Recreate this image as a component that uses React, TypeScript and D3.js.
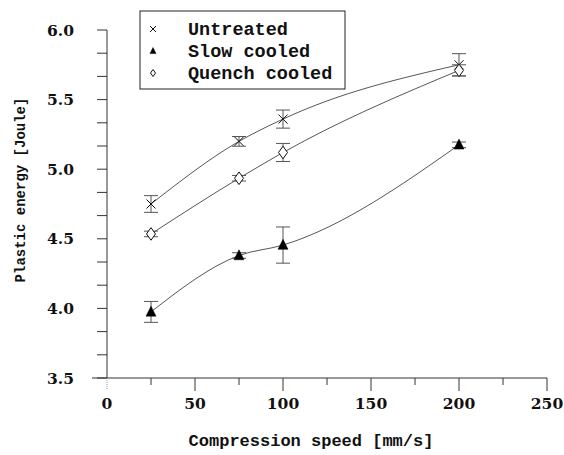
import React, { useRef, useEffect } from 'react'
import * as d3 from 'd3'

// compression speed [mm/s]
const speeds = [25, 75, 100, 200]

// plastic energy [Joule], mean and half error bar
const untreated = [4.75, 5.2, 5.36, 5.75]
const untreatedErr = [0.06, 0.035, 0.065, 0.08]
const slowCooled = [3.975, 4.38, 4.455, 5.175]
const slowCooledErr = [0.075, 0.02, 0.13, 0.02]
const quenchCooled = [4.535, 4.935, 5.12, 5.71]
const quenchCooledErr = [0.02, 0.02, 0.065, 0.04]

const xTicks = [0, 50, 100, 150, 200, 250]
const xMinorTicks = [25, 75, 125, 175, 225]
const yTicks = [3.5, 4.0, 4.5, 5.0, 5.5, 6.0]

const legendLabels = ['Untreated', 'Slow cooled', 'Quench cooled']
const legendMarks = ['cross', 'triangle', 'diamond']

const W = 564
const H = 455
const labelFont = '"DejaVu Serif", serif'
const titleFont = '"Liberation Mono", "DejaVu Sans Mono", monospace'

function drawMark(g, kind, cx, cy, s) {
  if (kind === 'cross') {
    g.append('path')
      .attr('d', `M${cx - s},${cy - s}L${cx + s},${cy + s}M${cx - s},${cy + s}L${cx + s},${cy - s}`)
      .attr('stroke', '#111')
      .attr('stroke-width', 1)
      .attr('fill', 'none')
  } else if (kind === 'triangle') {
    g.append('path')
      .attr('d', `M${cx},${cy - s * 1.15}L${cx + s},${cy + s * 0.85}L${cx - s},${cy + s * 0.85}Z`)
      .attr('fill', '#000')
      .attr('stroke', '#000')
      .attr('stroke-width', 0.5)
  } else {
    g.append('path')
      .attr('d', `M${cx},${cy - s * 1.4}L${cx + s},${cy}L${cx},${cy + s * 1.4}L${cx - s},${cy}Z`)
      .attr('fill', '#fff')
      .attr('stroke', '#111')
      .attr('stroke-width', 1)
  }
}

export default function App() {
  const ref = useRef(null)

  useEffect(() => {
    const svg = d3.select(ref.current)
    svg.selectAll('*').remove()

    const x = d3.scaleLinear().domain([0, 250]).range([107, 547])
    const y = d3.scaleLinear().domain([3.5, 6.0]).range([378, 30])

    svg.append('rect').attr('width', W).attr('height', H).attr('fill', '#fff')

    // axes
    const axes = svg.append('g').attr('stroke', '#333').attr('stroke-width', 1).attr('fill', 'none')
    axes.append('line').attr('x1', 92).attr('x2', x(250)).attr('y1', y(3.5)).attr('y2', y(3.5))
    axes.append('line').attr('x1', x(0)).attr('x2', x(0)).attr('y1', y(6)).attr('y2', y(3.5))
    axes.append('line').attr('x1', x(0)).attr('x2', x(0)).attr('y1', y(3.5)).attr('y2', y(3.5) + 11)
      .attr('stroke', '#999').attr('stroke-dasharray', '1,1')

    axes.selectAll('.xmaj')
      .data(xTicks.slice(1))
      .enter()
      .append('line')
      .attr('x1', d => x(d)).attr('x2', d => x(d))
      .attr('y1', y(3.5)).attr('y2', y(3.5) + 13)

    axes.selectAll('.xmin')
      .data(xMinorTicks)
      .enter()
      .append('line')
      .attr('x1', d => x(d)).attr('x2', d => x(d))
      .attr('y1', y(3.5)).attr('y2', y(3.5) + 7)

    const yMinor = d3.range(3.5, 6.001, 0.5 / 3)
    axes.selectAll('.ytick')
      .data(yMinor)
      .enter()
      .append('line')
      .attr('x1', x(0) - 10).attr('x2', x(0))
      .attr('y1', d => y(d)).attr('y2', d => y(d))

    svg.append('g')
      .selectAll('text')
      .data(xTicks)
      .enter()
      .append('text')
      .attr('x', d => x(d))
      .attr('y', y(3.5) + 31)
      .attr('text-anchor', 'middle')
      .attr('font-family', labelFont)
      .attr('font-weight', 'bold')
      .attr('font-size', 15.5)
      .attr('fill', '#111')
      .text(d => d)

    svg.append('g')
      .selectAll('text')
      .data(yTicks)
      .enter()
      .append('text')
      .attr('x', 74)
      .attr('y', d => y(d) + 5.5)
      .attr('text-anchor', 'end')
      .attr('font-family', labelFont)
      .attr('font-weight', 'bold')
      .attr('font-size', 15.5)
      .attr('fill', '#111')
      .text(d => d.toFixed(1))

    svg.append('text')
      .attr('x', 311)
      .attr('y', 446)
      .attr('text-anchor', 'middle')
      .attr('font-family', titleFont)
      .attr('font-weight', 'bold')
      .attr('font-size', 17)
      .attr('fill', '#111')
      .text('Compression speed [mm/s]')

    svg.append('text')
      .attr('transform', 'translate(25,190) rotate(-90)')
      .attr('text-anchor', 'middle')
      .attr('font-family', titleFont)
      .attr('font-weight', 'bold')
      .attr('font-size', 14)
      .attr('fill', '#111')
      .text('Plastic energy [Joule]')

    // series
    const series = [
      { kind: 'cross', v: untreated, e: untreatedErr },
      { kind: 'triangle', v: slowCooled, e: slowCooledErr },
      { kind: 'diamond', v: quenchCooled, e: quenchCooledErr }
    ]

    const line = d3.line()
      .x(d => x(d[0]))
      .y(d => y(d[1]))
      .curve(d3.curveMonotoneX)

    const plot = svg.append('g')
    series.forEach(s => {
      const pts = speeds.map((sp, i) => [sp, s.v[i]])
      plot.append('path')
        .attr('d', line(pts))
        .attr('fill', 'none')
        .attr('stroke', '#444')
        .attr('stroke-width', 0.9)

      speeds.forEach((sp, i) => {
        const cx = x(sp)
        const top = y(s.v[i] + s.e[i])
        const bot = y(s.v[i] - s.e[i])
        const eb = plot.append('g').attr('stroke', '#555').attr('stroke-width', 1)
        eb.append('line').attr('x1', cx).attr('x2', cx).attr('y1', top).attr('y2', bot)
        eb.append('line').attr('x1', cx - 7).attr('x2', cx + 7).attr('y1', top).attr('y2', top)
        eb.append('line').attr('x1', cx - 7).attr('x2', cx + 7).attr('y1', bot).attr('y2', bot)
      })

      speeds.forEach((sp, i) => {
        const size = s.kind === 'cross' ? 4.5 : s.kind === 'triangle' ? 5 : 4.5
        drawMark(plot, s.kind, x(sp), y(s.v[i]), size)
      })
    })

    // legend
    const lg = svg.append('g')
    lg.append('rect')
      .attr('x', 140).attr('y', 11)
      .attr('width', 205).attr('height', 78)
      .attr('fill', '#fff')
      .attr('stroke', '#222')
      .attr('stroke-width', 1)

    legendLabels.forEach((lab, i) => {
      const cy = 29 + i * 22
      drawMark(lg, legendMarks[i], 153, cy, legendMarks[i] === 'diamond' ? 2.5 : 3)
      lg.append('text')
        .attr('x', 188)
        .attr('y', cy + 5.5)
        .attr('font-family', titleFont)
        .attr('font-weight', 'bold')
        .attr('font-size', 18.5)
        .attr('fill', '#111')
        .text(lab)
    })
  }, [])

  return (
    <svg
      ref={ref}
      width={W}
      height={H}
      style={{ position: 'absolute', left: 0, top: 0, display: 'block' }}
    />
  )
}
